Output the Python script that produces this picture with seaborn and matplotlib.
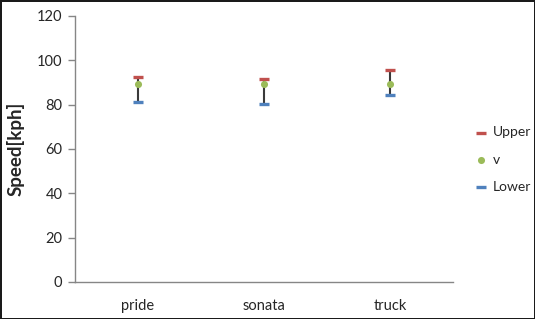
import pandas as pd
import seaborn as sns
import matplotlib.pyplot as plt

# values
vehicles = ['pride', 'sonata', 'truck']
upper = [92.3, 91.4, 95.8]
v = [89.4, 89.4, 89.3]
lower = [81.0, 80.4, 84.3]

df = pd.DataFrame({'vehicle': vehicles, 'Upper': upper, 'v': v, 'Lower': lower})

sns.set_style("white")
plt.rcParams['font.family'] = ['Lato', 'DejaVu Sans']

fig = plt.figure(figsize=(5.35, 3.19), dpi=100, edgecolor='#1a1a1a', linewidth=2)
ax = fig.add_axes([0.140, 0.116, 0.707, 0.834])

# high-low line
ax.vlines(df['vehicle'], df['Lower'], df['Upper'], color='#3a3a3a', linewidth=1.5, zorder=1)

sns.scatterplot(data=df, x='vehicle', y='Upper', marker='_', s=52, linewidth=2.4,
                color='#C0504D', label='Upper', ax=ax, zorder=3)
sns.scatterplot(data=df, x='vehicle', y='v', marker='o', s=26, linewidth=0,
                color='#9BBB59', label='v', ax=ax, zorder=3)
sns.scatterplot(data=df, x='vehicle', y='Lower', marker='_', s=52, linewidth=2.4,
                color='#4F81BD', label='Lower', ax=ax, zorder=3)

ax.set_xlim(-0.5, len(vehicles) - 0.5)
ax.set_ylim(0, 120)
ax.set_yticks(range(0, 121, 20))
ax.set_xlabel('')
ax.set_ylabel('Speed[kph]', fontsize=13.5, fontweight='bold', labelpad=9)

for side in ['top', 'right']:
    ax.spines[side].set_visible(False)
for side in ['left', 'bottom']:
    ax.spines[side].set_color('#868686')
    ax.spines[side].set_linewidth(1)

ax.set_xticks([i - 0.5 for i in range(len(vehicles) + 1)], minor=True)
ax.tick_params(axis='x', which='major', length=0, pad=12, labelsize=10.5)
ax.tick_params(axis='x', which='minor', length=5, width=1, color='#868686', direction='out')
ax.tick_params(axis='y', length=5, width=1, color='#868686', direction='out', left=True,
               labelsize=10.5, pad=4)

handles, labels = ax.get_legend_handles_labels()
ax.legend(handles, labels, loc='center left', bbox_to_anchor=(1.025, 0.46), frameon=False,
          fontsize=10, labelspacing=1.1, handlelength=0.9, handletextpad=0.35)

fig.savefig('out.png', dpi=100, edgecolor=fig.get_edgecolor())
